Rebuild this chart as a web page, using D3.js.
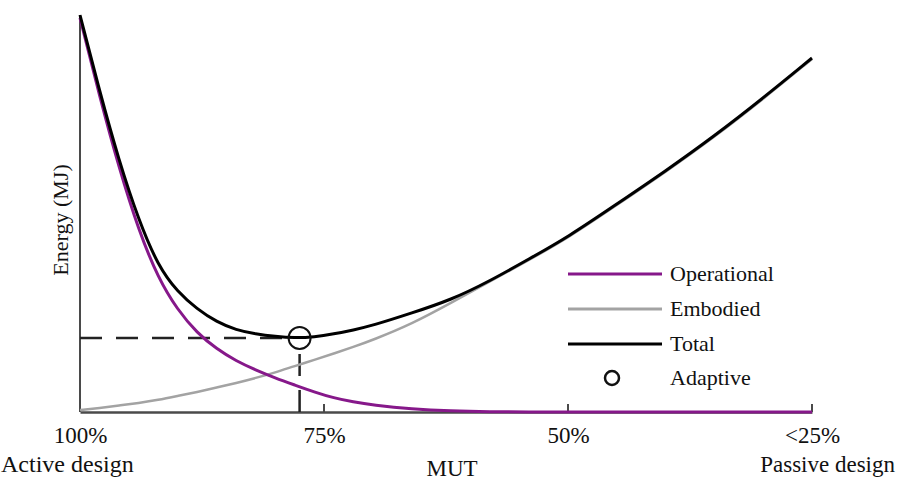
<!DOCTYPE html>
<html>
<head>
<meta charset="utf-8">
<script src="https://cdn.jsdelivr.net/npm/d3@7/dist/d3.min.js"></script>
<style>
  html, body { margin: 0; padding: 0; background: #fff; }
  svg { display: block; }
  text { font-family: "Liberation Serif", "Times New Roman", serif; fill: #111; }
</style>
</head>
<body>
<svg id="chart" width="898" height="483"></svg>
<script>
// MUT (%) positions along the x axis
const mut = [100, 98, 96, 94, 92, 90, 88, 86, 84, 82, 80, 78, 76, 74, 72, 70, 66, 62, 58, 54, 50, 45, 40, 35, 30, 25];
// Energy values (arbitrary MJ units)
const operational = [394, 316, 244, 182, 134, 102, 79, 63, 51, 42, 34, 27, 20, 14, 10, 7, 3, 1, 0.2, 0, 0, 0, 0, 0, 0, 0];
const embodied    = [2, 4, 6.5, 9, 12, 16, 20, 24.5, 29, 34, 39.5, 46, 52, 58.5, 65, 72, 88, 109, 130.5, 152, 174, 207, 240, 275, 313, 353];
const total       = [397, 321, 251, 192, 146, 120, 103, 90, 82, 78, 75.5, 74, 75, 78, 82, 86.5, 99, 112, 131, 153, 175, 208, 241, 276, 314, 354];
// Adaptive optimum
const adaptive = { mut: 77.5, energy: 74 };
// Tick labels
const tickValues = [100, 75, 50, 25];
const tickLabels = ["100%", "75%", "50%", "<25%"];
const seriesNames = ["Operational", "Embodied", "Total", "Adaptive"];
const seriesColors = ["#86188a", "#a3a3a3", "#000000"];

const svg = d3.select("#chart");
const x = d3.scaleLinear().domain([100, 25]).range([80, 812]);
const y = d3.scaleLinear().domain([0, 400]).range([412, 12]);

// axes
const axisColor = "#4a4a4a";
svg.append("line").attr("x1", x(100)).attr("x2", x(100)).attr("y1", 15).attr("y2", y(0))
  .attr("stroke", axisColor).attr("stroke-width", 2);

const xAxis = d3.axisBottom(x).tickValues(tickValues).tickSize(0).tickFormat((d, i) => tickLabels[i]);
const gx = svg.append("g").attr("transform", `translate(0,${y(0)})`).call(xAxis);
gx.select(".domain").attr("stroke", axisColor).attr("stroke-width", 2.5);
gx.selectAll(".tick text").attr("font-size", 23).attr("dy", 0).attr("y", 31)
  .style("font-family", '"Liberation Serif", serif').attr("fill", "#111");
// little upward ticks
svg.selectAll(".uptick").data(tickValues.slice(1)).enter().append("line")
  .attr("x1", d => x(d)).attr("x2", d => x(d)).attr("y1", y(0)).attr("y2", y(0) - 8)
  .attr("stroke", axisColor).attr("stroke-width", 2);

// axis titles
svg.append("text").attr("x", 1).attr("y", 472).attr("font-size", 24).text("Active design");
svg.append("text").attr("x", 452).attr("y", 476).attr("font-size", 23).attr("text-anchor", "middle").text("MUT");
svg.append("text").attr("x", 895).attr("y", 472).attr("font-size", 23).attr("text-anchor", "end").text("Passive design");
svg.append("text").attr("transform", "translate(68,220) rotate(-90)").attr("font-size", 22)
  .attr("text-anchor", "middle").text("Energy (MJ)");

// dashed guides
svg.append("line").attr("x1", x(100)).attr("x2", x(adaptive.mut) - 10)
  .attr("y1", y(adaptive.energy)).attr("y2", y(adaptive.energy))
  .attr("stroke", "#222").attr("stroke-width", 2.5).attr("stroke-dasharray", "22,14");
svg.append("line").attr("x1", x(adaptive.mut)).attr("x2", x(adaptive.mut))
  .attr("y1", y(0)).attr("y2", y(adaptive.energy) + 11)
  .attr("stroke", "#222").attr("stroke-width", 2.5).attr("stroke-dasharray", "22,14");

// curves
const line = d3.line().x((d, i) => x(mut[i])).y(d => y(d)).curve(d3.curveBasis);
[[embodied, seriesColors[1], 2.5], [operational, seriesColors[0], 3], [total, seriesColors[2], 3]].forEach(([vals, c, w]) => {
  svg.append("path").datum(vals).attr("d", line).attr("fill", "none")
    .attr("stroke", c).attr("stroke-width", w).attr("stroke-linejoin", "round");
});

// adaptive marker
svg.append("circle").attr("cx", x(adaptive.mut)).attr("cy", y(adaptive.energy)).attr("r", 11)
  .attr("fill", "none").attr("stroke", "#111").attr("stroke-width", 2);

// legend
const lg = svg.append("g");
const legY = [274, 309, 344, 378];
[0, 1, 2].forEach(i => {
  lg.append("line").attr("x1", 568).attr("x2", 662).attr("y1", legY[i]).attr("y2", legY[i])
    .attr("stroke", seriesColors[i]).attr("stroke-width", 3);
});
lg.append("circle").attr("cx", 612).attr("cy", legY[3]).attr("r", 7)
  .attr("fill", "none").attr("stroke", "#111").attr("stroke-width", 2.5);
seriesNames.forEach((n, i) => {
  lg.append("text").attr("x", 670).attr("y", legY[i] + 7).attr("font-size", 22).text(n);
});
</script>
</body>
</html>
